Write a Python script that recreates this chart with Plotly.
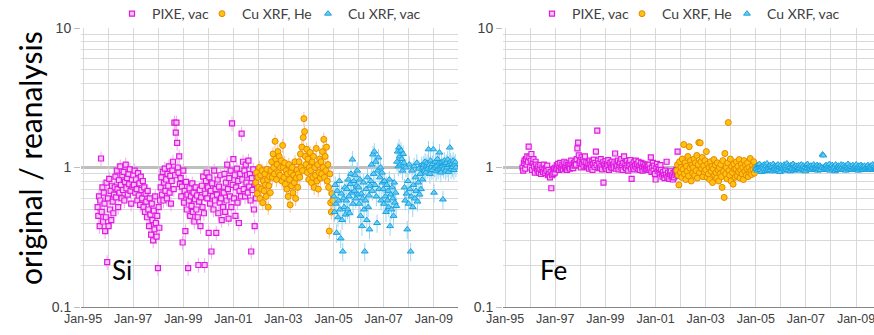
import pandas as pd
import plotly.graph_objects as go

# ---------------- data (ratio original / reanalysis) ----------------
series_names = ["PIXE, vac", "Cu XRF, He", "Cu XRF, vac"]
x_tick_labels_fmt = "%b-%y"
sample_step = "10D"
y_major_ticks = [0.1, 1, 10]
y_tick_labels = ["0.1", "1", "10"]
y_minor_ticks = [0.2, 0.3, 0.4, 0.5, 0.6, 0.7, 0.8, 0.9, 2, 3, 4, 5, 6, 7, 8, 9]

# Si panel
si_pixe_start = "1995-08-01"
si_pixe = [
    0.52, 0.45, 0.62, 0.38, 0.58, 1.16, 0.48, 0.72, 0.41, 0.66, 0.55, 0.35,
    0.44, 0.78, 0.21, 0.6, 0.38, 0.83, 0.5, 0.68, 0.42, 0.74, 0.57, 0.47, 0.64,
    0.72, 0.86, 0.61, 0.95, 0.7, 0.52, 0.81, 0.66, 1.02, 0.75, 0.6, 0.88, 0.69, 0.93,
    0.58, 0.79, 1.05, 0.71, 0.84, 0.64, 0.9, 0.76, 0.97, 0.68, 0.55, 0.82, 0.73,
    0.88, 0.75, 0.95, 0.66, 0.82, 0.7, 0.58, 0.91, 0.63, 0.77, 0.54, 0.86, 0.69, 0.6,
    0.8, 0.52, 0.72, 0.48, 0.65, 0.57, 0.44, 0.68, 0.5, 0.38, 0.6, 0.46, 0.33, 0.55,
    0.42, 0.3, 0.49, 0.36, 0.62, 0.4, 0.32, 0.45, 0.19, 0.52, 0.37, 0.58,
    0.72, 0.85, 0.64, 0.93, 0.58, 0.78, 0.98, 0.68, 0.82, 0.6, 0.9, 0.74, 1.02, 0.66,
    0.87, 0.55, 0.8, 0.95, 1.1, 0.7, 2.1, 0.88, 1.78, 2.1, 1.5, 1.0, 0.92, 1.2, 0.76,
    0.84, 0.62, 0.73, 0.29, 0.95, 0.56, 0.68, 0.35, 0.79, 0.5, 0.64, 0.19, 0.58, 0.71,
    0.45, 0.62, 0.53, 0.77, 0.48, 0.66, 0.41, 0.59, 0.72, 0.5, 0.63, 0.44, 0.2, 0.57,
    0.69, 0.38, 0.61, 0.74, 0.52, 0.86, 0.47, 0.2, 0.65,
    0.8, 0.92, 0.6, 0.72, 0.34, 0.85, 0.55, 0.68, 0.25, 0.77, 0.62, 0.5, 0.95, 0.58,
    0.7, 0.34, 0.64, 0.82, 0.47, 0.73, 0.56, 0.88, 0.6, 0.42, 0.67, 0.52,
    0.66, 0.9, 0.48, 0.78, 0.58, 1.05, 0.7, 0.43, 0.84, 0.62, 0.95, 0.52, 2.07, 0.75,
    1.15, 0.6, 0.88, 0.45, 0.72, 0.98, 0.56, 0.8, 0.4, 0.68, 0.9, 0.62,
    1.75, 0.82, 1.1, 0.7, 0.95, 0.62, 1.05, 0.78, 0.88, 0.66, 1.12, 0.73, 0.9, 0.58,
    0.25, 0.84, 0.69, 0.97, 0.5, 0.38, 0.76, 0.6, 0.86, 0.72,
]
si_xrf_he_start = "2001-11-25"
si_xrf_he = [
    0.78, 0.92, 0.65, 0.85, 0.72, 1.0, 0.6, 0.88, 0.7, 0.95, 0.56, 0.8, 0.68, 0.9,
    0.75, 0.62, 0.97, 0.82, 0.52, 0.74, 0.86, 0.66,
    0.95, 1.1, 0.85, 1.25, 1.0, 0.9, 1.54, 1.15, 0.82, 1.05, 1.3, 0.92, 1.2, 0.88,
    1.0, 1.12, 0.8, 1.44,
    1.0, 0.85, 1.08, 0.76, 0.95, 0.7, 0.9, 0.62, 1.05, 0.82, 0.54, 0.92, 0.74, 1.0,
    0.66, 0.88, 0.78, 1.1, 0.6, 0.84, 0.96, 0.72,
    0.9, 1.1, 0.85, 1.25, 1.0, 1.4, 0.95, 1.64, 2.24, 1.81, 1.2, 1.05, 1.35, 0.92,
    1.15, 0.82, 1.0, 1.28,
    0.95, 0.78, 1.1, 0.85, 1.2, 0.72, 1.0, 0.88, 1.37, 0.8, 1.05, 0.7, 0.92, 1.15, 0.84,
    1.1, 0.9, 1.3, 1.0, 1.59, 0.85, 1.2, 0.95, 1.4, 0.8, 1.05, 0.72, 0.35, 0.9,
    0.56, 0.48, 0.65, 0.58,
]
si_xrf_vac_start = "2005-01-05"
si_xrf_vac = [
    0.62, 0.48, 0.75, 0.55, 0.34, 0.68, 0.44, 0.58, 0.8, 0.5, 0.31, 0.65, 0.42, 0.25,
    0.6, 0.52, 0.72, 0.46,
    0.58, 0.7, 0.5, 0.82, 0.62, 0.47, 0.76, 0.9, 0.66, 1.14, 0.55, 0.8, 0.68, 0.88,
    0.6, 0.74, 0.95, 0.64,
    0.72, 0.55, 0.82, 0.45, 0.65, 0.38, 0.6, 0.78, 0.5, 0.25, 0.58, 0.7, 0.42, 0.85,
    0.52, 0.63, 0.36, 0.74,
    0.8, 1.05, 0.68, 1.24, 0.9, 1.3, 0.75, 1.1, 0.62, 0.4, 0.95, 1.18, 0.7, 0.85,
    1.0, 0.58, 0.92, 0.78,
    0.7, 0.55, 0.8, 0.62, 0.48, 0.75, 0.58, 0.68, 0.52, 0.82, 0.38, 0.64, 0.5, 0.72,
    0.6, 0.45, 0.78, 0.56, 0.66, 0.53,
    1.1, 1.3, 1.02, 1.39, 1.2, 1.05, 1.32, 1.15, 0.95, 1.25, 1.08,
    0.72, 0.58, 1.0, 0.65, 0.36, 0.8, 0.55, 1.05, 0.7, 0.25, 0.62, 0.95, 0.52, 0.75,
    1.02, 0.6, 0.85, 0.68, 1.08, 0.57, 0.78, 0.98, 0.64, 0.9, 0.7, 1.04, 0.82,
    1.0, 1.05, 0.95, 1.1, 0.92, 1.02, 1.08, 0.98, 1.35, 1.04, 0.9, 1.12, 1.0, 0.96,
    1.06, 1.35, 0.66, 1.0, 1.1, 0.94, 1.03, 1.15, 0.97, 1.07, 1.28, 1.0, 0.92, 1.09,
    1.02, 0.59, 0.98, 1.12, 1.05, 0.95, 1.08, 1.0, 1.14, 0.93, 1.04, 1.39, 1.1, 0.97,
    1.06, 1.01, 1.12, 0.96, 1.05, 1.09, 1.0,
]

# Fe panel
fe_pixe_start = "1995-09-12"
fe_pixe = [
    1.0, 0.95, 1.08, 1.12, 0.98, 1.15, 1.05, 1.2, 1.1, 1.41, 1.18, 1.0, 1.12, 1.25,
    0.96, 1.08, 1.15, 1.02, 0.92, 1.1, 1.05, 0.98,
    0.95, 1.02, 0.92, 0.98, 1.04, 0.9, 0.96, 1.0, 0.93, 1.05, 0.97, 0.91, 0.99, 0.94,
    1.03, 0.88, 0.96, 0.9, 0.85, 0.93, 0.71, 0.88, 0.95, 0.9, 0.98, 0.92,
    1.0, 0.97, 1.04, 0.99, 1.06, 0.96, 1.02, 1.08, 0.98, 1.0, 1.05, 0.97, 1.03, 1.1,
    0.99, 1.01, 1.07, 0.96, 1.04, 1.0, 1.02, 0.98, 1.06, 1.12, 1.0, 1.05, 0.99, 1.08, 1.03,
    1.1, 1.05, 1.15, 1.37, 1.51, 1.22, 1.08, 1.12, 1.0, 1.18, 1.06, 1.14, 1.02, 1.1,
    1.2, 1.04, 1.09, 1.0,
    1.02, 1.08, 0.98, 1.12, 1.05, 1.0, 1.1, 0.96, 1.06, 1.14, 1.01, 1.08, 1.3, 1.04,
    1.84, 1.12, 0.99, 1.07, 1.0, 1.15, 1.03, 0.97, 1.09, 0.78, 1.05, 1.0, 1.11, 0.98,
    1.06, 1.02, 1.13, 0.96, 1.04, 1.08, 1.0, 1.1, 0.99,
    1.05, 1.0, 1.1, 1.26, 0.98, 1.07, 1.02, 1.12, 0.97, 1.04, 1.09, 1.0, 1.15, 1.03,
    0.96, 1.08, 1.2, 1.01, 1.06, 0.99, 1.11, 1.04, 0.95, 1.07, 1.02, 1.13, 0.98, 0.83,
    1.05, 1.0, 1.09, 0.97, 1.03, 1.12, 1.0, 1.06, 0.98, 1.1, 1.02, 0.96, 1.04, 1.08,
    1.0, 0.95, 1.06, 1.01, 0.97, 1.05, 0.99, 1.03, 0.98,
    1.02, 0.96, 1.05, 0.98, 1.18, 0.93, 1.0, 1.08, 0.95, 1.03, 0.9, 0.82, 0.99, 1.06,
    0.94, 1.01, 0.97, 0.92, 1.04, 0.96,
    0.9, 0.86, 0.93, 0.88, 0.84, 0.95, 0.89, 1.1, 0.85, 0.92, 0.87, 0.83, 0.9, 0.94,
    0.86, 0.88, 0.82, 0.91, 0.85, 0.93, 0.88, 0.96, 0.9, 1.3, 0.87, 0.92, 0.95,
]
fe_xrf_he_start = "2001-11-08"
fe_xrf_he = [
    0.95, 1.05, 0.88, 0.75, 1.1, 0.92, 1.0, 0.85, 1.15, 0.97, 1.46, 0.9, 1.08, 0.82,
    1.02, 0.94, 1.2, 0.87, 1.41, 0.99, 1.12, 0.8, 1.04, 0.91,
    1.0, 1.15, 0.88, 1.08, 0.95, 1.22, 0.84, 1.05, 1.51, 0.92, 1.5, 1.1, 0.98, 1.18,
    0.86, 1.03, 0.93, 1.12,
    0.96, 1.3, 0.85, 1.06, 0.9, 1.0, 0.82, 1.1, 0.94, 1.02, 0.78, 0.98, 1.14, 0.88,
    1.04, 0.92, 0.84, 1.08, 0.96, 0.8, 1.0, 0.9,
    1.05, 0.86, 0.72, 1.12, 0.94, 0.61, 1.26, 0.9, 1.0, 0.83, 1.08, 2.1, 0.95, 0.88,
    1.15, 0.8, 1.02, 0.92, 0.76, 1.06, 0.97, 0.85,
    0.98, 1.1, 0.87, 1.02, 0.93, 1.14, 0.84, 0.96, 1.06, 0.9, 1.0, 0.82, 1.12, 0.94,
    1.04, 0.88, 0.98, 1.08, 0.86, 1.0, 0.92, 1.16, 0.95, 0.89, 1.03, 0.97, 1.1, 0.91, 1.0,
]
fe_xrf_vac_start = "2005-01-05"
fe_xrf_vac = [
    0.98, 1.02, 0.95, 1.04, 0.99, 1.06, 0.96, 1.01, 0.93, 1.03, 1.0, 0.97, 1.05, 0.94,
    1.02, 0.98, 1.07, 0.95, 1.0, 1.03,
    0.96, 1.04, 0.99, 1.01, 0.94, 1.06, 0.97, 1.02, 1.0, 0.95, 1.03, 0.98, 1.05, 0.96,
    1.01, 0.93, 1.04, 0.99, 1.02, 0.97,
    1.0, 1.05, 0.95, 1.02, 0.98, 1.07, 0.96, 1.03, 0.99, 1.01, 0.94, 1.04, 0.97, 1.0,
    1.06, 0.95, 1.02, 0.98, 1.03, 0.96,
    1.01, 0.97, 1.04, 0.99, 1.02, 0.95, 1.05, 0.98, 1.0, 1.03, 0.96, 1.01, 0.94, 1.04,
    0.99, 1.06, 0.97, 1.02, 1.0, 0.98,
    1.03, 0.96, 1.01, 0.99, 1.05, 0.97, 1.02, 0.98, 1.0, 1.04, 0.95, 1.02, 0.98, 1.03,
    0.96, 1.01, 1.0, 1.24, 1.22, 0.99,
    1.02, 0.97, 1.04, 1.0, 0.96, 1.03, 0.98, 1.06, 0.95, 1.01, 0.99, 1.04, 0.97, 1.02,
    1.0, 0.94, 1.05, 0.98, 1.01, 0.96,
    1.03, 0.99, 1.02, 0.97, 1.05, 1.0, 0.96, 1.04, 0.98, 1.01, 1.03, 0.95, 1.02, 0.99,
    1.06, 0.97, 1.0, 1.03, 0.98, 1.01,
    0.96, 1.04, 1.0, 0.98, 1.02, 0.97, 1.05, 0.99, 1.01, 0.95, 1.03, 1.0, 0.97, 1.04,
    0.99, 1.02, 0.96, 1.01, 1.03, 0.98,
    1.0, 1.02, 0.97, 1.04, 0.99, 1.01, 0.96, 1.03, 1.0, 0.98, 1.05, 0.97, 1.02, 0.99,
    1.01, 0.96, 1.03, 1.0, 0.98, 1.02,
]

# relative uncertainty (percent) per panel
si_err_pct = [12, 12, 15]
fe_err_pct = [5, 5, 4]

# ---------------- styling ----------------
marker_styles = [
    dict(symbol="square", size=5, color="#F7C6F7", line=dict(color="#E01AE0", width=1.2)),
    dict(symbol="circle", size=6, color="#FFC20E", line=dict(color="#E88600", width=1)),
    dict(symbol="triangle-up", size=6, color="#6CCBF2", line=dict(color="#17A3E0", width=1)),
]
err_colors = ["#F3A8F3", "#F7C48A", "#9CD6F5"]

GRID = "#D9D9D9"
TXT = "#404040"
W, H = 874, 335

# legend entry anchor (left edge, px) for each panel's three entries
legend_left_px = [[112, 202, 308], [532, 622, 727]]


def dates(start, n):
    return pd.date_range(start, periods=n, freq=sample_step)


fig = go.Figure()

panels = [
    ("x", "y",
     [(si_pixe_start, si_pixe), (si_xrf_he_start, si_xrf_he), (si_xrf_vac_start, si_xrf_vac)],
     si_err_pct),
    ("x2", "y2",
     [(fe_pixe_start, fe_pixe), (fe_xrf_he_start, fe_xrf_he), (fe_xrf_vac_start, fe_xrf_vac)],
     fe_err_pct),
]

legend_layout = {}
lg_index = 0
for p, (xa, ya, sets, errs) in enumerate(panels):
    for i, ((start, vals), name) in enumerate(zip(sets, series_names)):
        lg_index += 1
        lg = "legend" if lg_index == 1 else f"legend{lg_index}"
        fig.add_trace(go.Scatter(
            x=dates(start, len(vals)), y=vals, mode="markers", name=name,
            xaxis=xa, yaxis=ya, legend=lg,
            marker=marker_styles[i],
            error_y=dict(type="percent", value=errs[i], symmetric=True,
                         color=err_colors[i], thickness=1, width=0),
        ))
        legend_layout[lg] = dict(
            orientation="h", x=legend_left_px[p][i] / W, xanchor="left",
            y=1.05, yanchor="middle",
            font=dict(family="Lato", size=14, color=TXT), bgcolor="rgba(0,0,0,0)",
            itemwidth=30, tracegroupgap=0,
        )

xcommon = dict(
    type="date", tick0="1995-01-01", dtick="M24", tickformat=x_tick_labels_fmt,
    showgrid=True, gridcolor=GRID, gridwidth=1,
    minor=dict(dtick="M12", tick0="1995-01-01", showgrid=True, gridcolor=GRID, gridwidth=1),
    showline=True, linecolor="#868686", linewidth=1,
    ticks="", zeroline=False, automargin=False, ticklabeloverflow="allow",
    tickfont=dict(family="Liberation Sans", size=12.5, color=TXT),
)
ycommon = dict(
    type="log", range=[-1, 1], tickvals=y_major_ticks, ticktext=y_tick_labels,
    showgrid=True, gridcolor="#BFBFBF", gridwidth=1,
    minor=dict(tickvals=y_minor_ticks, showgrid=True, gridcolor=GRID, gridwidth=1, ticks=""),
    ticks="outside", ticklen=6, tickcolor="#BFBFBF",
    showline=False, zeroline=False, automargin=False,
    tickfont=dict(family="Liberation Sans", size=14, color=TXT),
)

fig.update_layout(
    width=W, height=H,
    margin=dict(l=0, r=0, t=28, b=28, autoexpand=False),
    paper_bgcolor="white", plot_bgcolor="white",
    xaxis=dict(xcommon, domain=[81 / W, 458 / W], range=["1994-12-02", "2009-12-20"], anchor="y"),
    xaxis2=dict(xcommon, domain=[503 / W, 1.0], range=["1994-12-02", "2009-09-20"], anchor="y2"),
    yaxis=dict(ycommon, anchor="x"),
    yaxis2=dict(ycommon, anchor="x2"),
    showlegend=True,
    **legend_layout,
)

# reference line at ratio 1
for xa, ya in (("x", "y"), ("x2", "y2")):
    fig.add_shape(type="line", xref=f"{xa} domain", yref=ya, x0=0, x1=1, y0=1, y1=1,
                  line=dict(color="#7F7F7F", width=2), layer="below")

fig.add_annotation(text="Si", xref="x domain", yref="y domain", x=0.11, y=0.133,
                   xanchor="center", yanchor="middle",
                   showarrow=False, font=dict(family="Lato", size=26, color="black"))
fig.add_annotation(text="Fe", xref="x2 domain", yref="y2 domain", x=0.135, y=0.133,
                   xanchor="center", yanchor="middle",
                   showarrow=False, font=dict(family="Lato", size=26, color="black"))
fig.add_annotation(text="original / reanalysis", xref="paper", yref="paper",
                   x=30 / W, y=(H - 28 - 158) / (H - 56), textangle=-90, showarrow=False,
                   xanchor="center", yanchor="middle",
                   font=dict(family="Lato", size=30, color="black"))

fig.write_html("out.html")
